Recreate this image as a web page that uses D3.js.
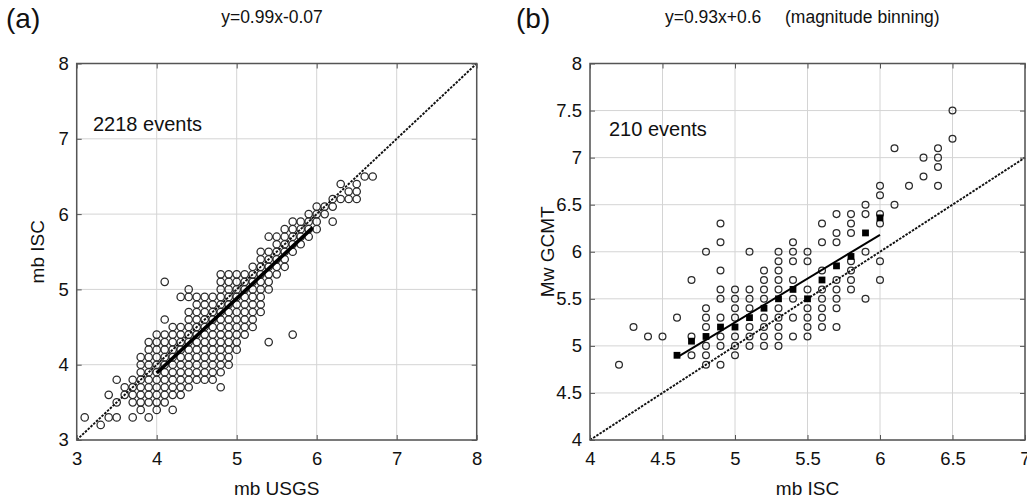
<!DOCTYPE html>
<html>
<head>
<meta charset="utf-8">
<script src="https://cdn.jsdelivr.net/npm/d3@7"></script>
<style>
  body { margin: 0; background: #fff; }
  svg { display: block; font-family: "Liberation Sans", Arial, sans-serif; }
</style>
</head>
<body>
<svg id="chart" width="1027" height="499"></svg>
<script>
// ---- panel (a): mb USGS vs mb ISC, unique 0.1 cells [x, [y...]]
var aColumns = [
  [3.1, [3.3]],
  [3.3, [3.2]],
  [3.4, [3.6, 3.3]],
  [3.5, [3.8, 3.5, 3.3]],
  [3.6, [3.7, 3.6]],
  [3.7, [3.8, 3.7, 3.6, 3.5, 3.3]],
  [3.8, [4.1, 4.0, 3.9, 3.8, 3.7, 3.6, 3.5, 3.4]],
  [3.9, [4.3, 4.2, 4.1, 4.0, 3.9, 3.8, 3.7, 3.6, 3.5, 3.3]],
  [4.0, [4.4, 4.3, 4.2, 4.1, 4.0, 3.9, 3.8, 3.7, 3.6, 3.5, 3.4]],
  [4.1, [5.1, 4.6, 4.4, 4.3, 4.2, 4.1, 4.0, 3.9, 3.8, 3.7, 3.6, 3.5]],
  [4.2, [4.5, 4.4, 4.3, 4.2, 4.1, 4.0, 3.9, 3.8, 3.7, 3.6, 3.4]],
  [4.3, [4.9, 4.5, 4.4, 4.3, 4.2, 4.1, 4.0, 3.9, 3.8, 3.7, 3.6]],
  [4.4, [5.0, 4.9, 4.7, 4.6, 4.5, 4.4, 4.3, 4.2, 4.1, 4.0, 3.9, 3.8, 3.7]],
  [4.5, [4.9, 4.8, 4.7, 4.6, 4.5, 4.4, 4.3, 4.2, 4.1, 4.0, 3.9, 3.8]],
  [4.6, [4.9, 4.8, 4.7, 4.6, 4.5, 4.4, 4.3, 4.2, 4.1, 4.0, 3.9, 3.8]],
  [4.7, [4.9, 4.8, 4.7, 4.6, 4.5, 4.4, 4.3, 4.2, 4.1, 4.0, 3.9, 3.8]],
  [4.8, [5.2, 5.1, 5.0, 4.9, 4.8, 4.7, 4.6, 4.5, 4.4, 4.3, 4.2, 4.1, 4.0, 3.9, 3.7]],
  [4.9, [5.2, 5.1, 5.0, 4.9, 4.8, 4.7, 4.6, 4.5, 4.4, 4.3, 4.2, 4.1, 4.0]],
  [5.0, [5.2, 5.1, 5.0, 4.9, 4.8, 4.7, 4.6, 4.5, 4.4, 4.3, 4.2]],
  [5.1, [5.2, 5.1, 5.0, 4.9, 4.8, 4.7, 4.6, 4.5, 4.4]],
  [5.2, [5.3, 5.2, 5.1, 5.0, 4.9, 4.8, 4.7, 4.6, 4.5]],
  [5.3, [5.5, 5.4, 5.3, 5.2, 5.1, 5.0, 4.9, 4.8, 4.7]],
  [5.4, [5.7, 5.5, 5.4, 5.3, 5.2, 5.1, 5.0, 4.3]],
  [5.5, [5.7, 5.6, 5.5, 5.4, 5.3, 5.2]],
  [5.6, [5.8, 5.7, 5.6, 5.5, 5.4, 5.3]],
  [5.7, [5.9, 5.8, 5.7, 5.6, 5.5, 4.4]],
  [5.8, [5.9, 5.8, 5.7, 5.6]],
  [5.9, [6.0, 5.9, 5.8, 5.7]],
  [6.0, [6.1, 6.0, 5.9, 5.8]],
  [6.1, [6.1, 6.0]],
  [6.2, [6.2, 6.1, 5.9]],
  [6.3, [6.4, 6.2]],
  [6.4, [6.3, 6.2]],
  [6.5, [6.4, 6.3, 6.2]],
  [6.6, [6.5]],
  [6.7, [6.5]]
];
var aFit = { slope: 0.99, icpt: -0.07, from: 4.0, to: 5.95 };
var aTicks = [3, 4, 5, 6, 7, 8];

// ---- panel (b): mb ISC vs Mw GCMT
var bColumns = [
  [4.2, [4.8]],
  [4.3, [5.2]],
  [4.4, [5.1]],
  [4.5, [5.1]],
  [4.6, [5.3]],
  [4.7, [5.7, 5.1, 4.9]],
  [4.8, [6.0, 5.4, 5.3, 5.2, 5.0, 4.9, 4.8]],
  [4.9, [6.3, 6.1, 5.8, 5.6, 5.5, 5.3, 5.1, 5.0, 4.8]],
  [5.0, [5.6, 5.5, 5.4, 5.3, 5.1, 5.0, 4.9]],
  [5.1, [6.0, 5.6, 5.5, 5.4, 5.2, 5.1, 5.0]],
  [5.2, [5.8, 5.7, 5.6, 5.5, 5.3, 5.2, 5.1, 5.0]],
  [5.3, [6.0, 5.9, 5.8, 5.7, 5.6, 5.4, 5.3, 5.2, 5.1, 5.0]],
  [5.4, [6.1, 6.0, 5.9, 5.7, 5.5, 5.3, 5.1]],
  [5.5, [6.0, 5.9, 5.6, 5.4, 5.3, 5.2, 5.1]],
  [5.6, [6.3, 6.1, 5.8, 5.6, 5.5, 5.4, 5.3, 5.2]],
  [5.7, [6.4, 6.2, 6.1, 5.7, 5.6, 5.5, 5.4, 5.2]],
  [5.8, [6.4, 6.3, 6.2, 5.9, 5.8, 5.7, 5.6]],
  [5.9, [6.5, 6.4, 6.0, 5.5]],
  [6.0, [6.7, 6.6, 6.4, 6.3, 5.9, 5.7]],
  [6.1, [7.1, 6.5]],
  [6.2, [6.7]],
  [6.3, [7.0, 6.8]],
  [6.4, [7.1, 7.0, 6.9, 6.7]],
  [6.5, [7.5, 7.2]]
];
// binned means (black squares)
var binX = [4.6, 4.7, 4.8, 4.9, 5.0, 5.1, 5.2, 5.3, 5.4, 5.5, 5.6, 5.7, 5.8, 5.9, 6.0];
var binY = [4.9, 5.05, 5.1, 5.2, 5.2, 5.3, 5.4, 5.5, 5.6, 5.5, 5.7, 5.85, 5.95, 6.2, 6.36];
var bFit = { slope: 0.93, icpt: 0.6, from: 4.6, to: 6.0 };
var bXTicks = [4, 4.5, 5, 5.5, 6, 6.5, 7];
var bYTicks = [4, 4.5, 5, 5.5, 6, 6.5, 7, 7.5, 8];

var svg = d3.select("#chart");

function flatten(cols) {
  var pts = [];
  cols.forEach(function (c) {
    c[1].forEach(function (y) { pts.push({ x: c[0], y: y }); });
  });
  return pts;
}

function drawPanel(opt) {
  var x = opt.x, y = opt.y;
  var x0 = x.range()[0], x1 = x.range()[1];
  var y0 = y.range()[0], y1 = y.range()[1];
  var g = svg.append("g");

  // grid
  g.append("g").selectAll("line").data(opt.xTicks).join("line")
    .attr("x1", x).attr("x2", x).attr("y1", y0).attr("y2", y1)
    .attr("stroke", "#d4d4d4").attr("stroke-width", 1);
  g.append("g").selectAll("line").data(opt.yTicks).join("line")
    .attr("x1", x0).attr("x2", x1).attr("y1", y).attr("y2", y)
    .attr("stroke", "#d4d4d4").attr("stroke-width", 1);

  // circles
  g.append("g").selectAll("circle").data(flatten(opt.cols)).join("circle")
    .attr("cx", function (d) { return x(d.x); })
    .attr("cy", function (d) { return y(d.y); })
    .attr("r", opt.r)
    .attr("fill", "none").attr("stroke", "#2a2a2a").attr("stroke-width", 1.25);

  // 1:1 dotted line
  var lo = Math.max(x.domain()[0], y.domain()[0]);
  var hi = Math.min(x.domain()[1], y.domain()[1]);
  g.append("line")
    .attr("x1", x(lo)).attr("y1", y(lo)).attr("x2", x(hi)).attr("y2", y(hi))
    .attr("stroke", "#111").attr("stroke-width", 1.9).attr("stroke-dasharray", "2.5,1.3");

  // fit line
  var f = opt.fit;
  g.append("line")
    .attr("x1", x(f.from)).attr("y1", y(f.slope * f.from + f.icpt))
    .attr("x2", x(f.to)).attr("y2", y(f.slope * f.to + f.icpt))
    .attr("stroke", "#000").attr("stroke-width", opt.fitWidth);

  if (opt.binX) {
    g.append("g").selectAll("rect").data(opt.binX).join("rect")
      .attr("x", function (d) { return x(d) - 3.4; })
      .attr("y", function (d, i) { return y(opt.binY[i]) - 3.4; })
      .attr("width", 6.8).attr("height", 6.8).attr("fill", "#000");
  }

  // axes with inward ticks (all four sides)
  var bottom = g.append("g").attr("transform", "translate(0," + y0 + ")")
    .call(d3.axisBottom(x).tickValues(opt.xTicks).tickFormat(d3.format("")).tickSizeInner(-5).tickSizeOuter(0).tickPadding(12));
  var left = g.append("g").attr("transform", "translate(" + x0 + ",0)")
    .call(d3.axisLeft(y).tickValues(opt.yTicks).tickFormat(d3.format("")).tickSizeInner(-5).tickSizeOuter(0).tickPadding(8));
  var top = g.append("g").attr("transform", "translate(0," + y1 + ")")
    .call(d3.axisTop(x).tickValues(opt.xTicks).tickFormat("").tickSizeInner(-5).tickSizeOuter(0));
  var right = g.append("g").attr("transform", "translate(" + x1 + ",0)")
    .call(d3.axisRight(y).tickValues(opt.yTicks).tickFormat("").tickSizeInner(-5).tickSizeOuter(0));
  [bottom, left, top, right].forEach(function (ax) {
    ax.select(".domain").remove();
    ax.selectAll("line").attr("stroke", "#555");
    ax.selectAll("text").attr("fill", "#111").style("font-size", "18.5px")
      .style("font-family", "'Liberation Sans', Arial, sans-serif");
  });

  g.append("rect")
    .attr("x", x0).attr("y", y1).attr("width", x1 - x0).attr("height", y0 - y1)
    .attr("fill", "none").attr("stroke", "#555").attr("stroke-width", 1.5);

  // labels
  g.append("text").attr("x", (x0 + x1) / 2).attr("y", 495)
    .attr("text-anchor", "middle").style("font-size", "19px").attr("fill", "#111")
    .text(opt.xLabel);
  g.append("text")
    .attr("transform", "translate(" + opt.yLabelX + "," + (y0 + y1) / 2 + ") rotate(-90)")
    .attr("text-anchor", "middle").style("font-size", "19px").attr("fill", "#111")
    .text(opt.yLabel);
  g.append("text").attr("x", opt.countX).attr("y", opt.countY)
    .style("font-size", "20px").attr("fill", "#111").text(opt.count);
  g.append("text").attr("x", opt.tagX).attr("y", 28)
    .style("font-size", "28px").attr("fill", "#111").text(opt.tag);
  opt.titles.forEach(function (t) {
    g.append("text").attr("x", t[0]).attr("y", 23).attr("text-anchor", t[2])
      .style("font-size", "17.5px").attr("fill", "#111").text(t[1]);
  });
}

drawPanel({
  x: d3.scaleLinear().domain([3, 8]).range([76.7, 476.7]),
  y: d3.scaleLinear().domain([3, 8]).range([440, 63.5]),
  xTicks: aTicks, yTicks: aTicks,
  cols: aColumns, r: 3.7, fit: aFit, fitWidth: 3.6,
  xLabel: "mb USGS", yLabel: "mb ISC", yLabelX: 44,
  count: "2218 events", countX: 93, countY: 131,
  tag: "(a)", tagX: 6,
  titles: [[272, "y=0.99x-0.07", "middle"]]
});

drawPanel({
  x: d3.scaleLinear().domain([4, 7]).range([590, 1025]),
  y: d3.scaleLinear().domain([4, 8]).range([440, 63.5]),
  xTicks: bXTicks, yTicks: bYTicks,
  cols: bColumns, r: 3.4, fit: bFit, fitWidth: 2,
  binX: binX, binY: binY,
  xLabel: "mb ISC", yLabel: "Mw GCMT", yLabelX: 554,
  count: "210 events", countX: 609, countY: 136,
  tag: "(b)", tagX: 516,
  titles: [[665, "y=0.93x+0.6", "start"], [785, "(magnitude binning)", "start"]]
});
</script>
</body>
</html>
